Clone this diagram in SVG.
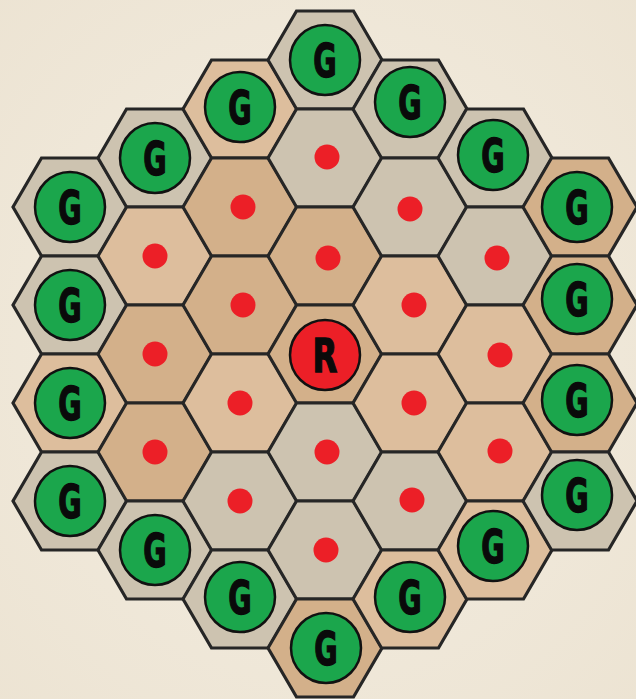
<svg xmlns="http://www.w3.org/2000/svg" xmlns:xlink="http://www.w3.org/1999/xlink" width="636" height="699" viewBox="0 0 636 699">
<style>
.hex{stroke:#262626;stroke-width:3.2;stroke-linejoin:miter}
.gray{fill:#cdc3b0}
.tan{fill:#d3b08a}
.peach{fill:#ddbe9d}
.gc{fill:#1ba64c;stroke:#111;stroke-width:2.5}
.rc{fill:#ec1f27;stroke:#111;stroke-width:2.5}
.dot{fill:#ec1f27}
.lbl{font-family:"DejaVu Sans","Liberation Sans",sans-serif;font-weight:bold;font-size:46px;fill:#0a0a0a;stroke:#0a0a0a;stroke-width:1.5;text-anchor:middle}
</style>
<defs>
<polygon id="hx" points="-57,0 -28.5,-49 28.5,-49 57,0 28.5,49 -28.5,49"/>
<radialGradient id="bg" cx="0.5" cy="0.5" r="0.75">
<stop offset="0" stop-color="#f4eee2"/>
<stop offset="1" stop-color="#ece3d2"/>
</radialGradient>
</defs>
<rect width="636" height="699" fill="url(#bg)"/>
<g id="board">
<!-- column -3 -->
<g id="h-3a"><use href="#hx" x="70" y="207" class="hex gray"/><circle cx="70" cy="207" r="35" class="gc"/><text class="lbl" transform="translate(70,224) scale(0.62,1)">G</text></g>
<g id="h-3b"><use href="#hx" x="70" y="305" class="hex gray"/><circle cx="70" cy="305" r="35" class="gc"/><text class="lbl" transform="translate(70,322) scale(0.62,1)">G</text></g>
<g id="h-3c"><use href="#hx" x="70" y="403" class="hex peach"/><circle cx="70" cy="403" r="35" class="gc"/><text class="lbl" transform="translate(70,420) scale(0.62,1)">G</text></g>
<g id="h-3d"><use href="#hx" x="70" y="501" class="hex gray"/><circle cx="70" cy="501" r="35" class="gc"/><text class="lbl" transform="translate(70,518) scale(0.62,1)">G</text></g>
<!-- column -2 -->
<g id="h-2a"><use href="#hx" x="155" y="158" class="hex gray"/><circle cx="155" cy="158" r="35" class="gc"/><text class="lbl" transform="translate(155,175) scale(0.62,1)">G</text></g>
<g id="h-2b"><use href="#hx" x="155" y="256" class="hex peach"/><circle cx="155" cy="256" r="12.5" class="dot"/></g>
<g id="h-2c"><use href="#hx" x="155" y="354" class="hex tan"/><circle cx="155" cy="354" r="12.5" class="dot"/></g>
<g id="h-2d"><use href="#hx" x="155" y="452" class="hex tan"/><circle cx="155" cy="452" r="12.5" class="dot"/></g>
<g id="h-2e"><use href="#hx" x="155" y="550" class="hex gray"/><circle cx="155" cy="550" r="35" class="gc"/><text class="lbl" transform="translate(155,567) scale(0.62,1)">G</text></g>
<!-- column -1 -->
<g id="h-1a"><use href="#hx" x="240" y="109" class="hex peach"/><circle cx="240" cy="107" r="35" class="gc"/><text class="lbl" transform="translate(240,124) scale(0.62,1)">G</text></g>
<g id="h-1b"><use href="#hx" x="240" y="207" class="hex tan"/><circle cx="243" cy="207" r="12.5" class="dot"/></g>
<g id="h-1c"><use href="#hx" x="240" y="305" class="hex tan"/><circle cx="243" cy="305" r="12.5" class="dot"/></g>
<g id="h-1d"><use href="#hx" x="240" y="403" class="hex peach"/><circle cx="240" cy="403" r="12.5" class="dot"/></g>
<g id="h-1e"><use href="#hx" x="240" y="501" class="hex gray"/><circle cx="240" cy="501" r="12.5" class="dot"/></g>
<g id="h-1f"><use href="#hx" x="240" y="599" class="hex gray"/><circle cx="240" cy="597" r="35" class="gc"/><text class="lbl" transform="translate(240,614) scale(0.62,1)">G</text></g>
<!-- column 0 -->
<g id="h0a"><use href="#hx" x="325" y="60" class="hex gray"/><circle cx="325" cy="60" r="35" class="gc"/><text class="lbl" transform="translate(325,77) scale(0.62,1)">G</text></g>
<g id="h0b"><use href="#hx" x="325" y="158" class="hex gray"/><circle cx="327" cy="157" r="12.5" class="dot"/></g>
<g id="h0c"><use href="#hx" x="325" y="256" class="hex tan"/><circle cx="328" cy="258" r="12.5" class="dot"/></g>
<g id="h0d"><use href="#hx" x="325" y="354" class="hex tan"/><circle cx="325" cy="355" r="35" class="rc"/><text class="lbl" transform="translate(325,372) scale(0.7,1)">R</text></g>
<g id="h0e"><use href="#hx" x="325" y="452" class="hex gray"/><circle cx="327" cy="452" r="12.5" class="dot"/></g>
<g id="h0f"><use href="#hx" x="325" y="550" class="hex gray"/><circle cx="326" cy="550" r="12.5" class="dot"/></g>
<g id="h0g"><use href="#hx" x="325" y="648" class="hex tan"/><circle cx="326" cy="648" r="35" class="gc"/><text class="lbl" transform="translate(326,665) scale(0.62,1)">G</text></g>
<!-- column 1 -->
<g id="h1a"><use href="#hx" x="410" y="109" class="hex gray"/><circle cx="410" cy="102" r="35" class="gc"/><text class="lbl" transform="translate(410,119) scale(0.62,1)">G</text></g>
<g id="h1b"><use href="#hx" x="410" y="207" class="hex gray"/><circle cx="410" cy="209" r="12.5" class="dot"/></g>
<g id="h1c"><use href="#hx" x="410" y="305" class="hex peach"/><circle cx="414" cy="305" r="12.5" class="dot"/></g>
<g id="h1d"><use href="#hx" x="410" y="403" class="hex peach"/><circle cx="414" cy="403" r="12.5" class="dot"/></g>
<g id="h1e"><use href="#hx" x="410" y="501" class="hex gray"/><circle cx="412" cy="500" r="12.5" class="dot"/></g>
<g id="h1f"><use href="#hx" x="410" y="599" class="hex peach"/><circle cx="410" cy="597" r="35" class="gc"/><text class="lbl" transform="translate(410,614) scale(0.62,1)">G</text></g>
<!-- column 2 -->
<g id="h2a"><use href="#hx" x="495" y="158" class="hex gray"/><circle cx="493" cy="155" r="35" class="gc"/><text class="lbl" transform="translate(493,172) scale(0.62,1)">G</text></g>
<g id="h2b"><use href="#hx" x="495" y="256" class="hex gray"/><circle cx="497" cy="258" r="12.5" class="dot"/></g>
<g id="h2c"><use href="#hx" x="495" y="354" class="hex peach"/><circle cx="500" cy="355" r="12.5" class="dot"/></g>
<g id="h2d"><use href="#hx" x="495" y="452" class="hex peach"/><circle cx="500" cy="451" r="12.5" class="dot"/></g>
<g id="h2e"><use href="#hx" x="495" y="550" class="hex peach"/><circle cx="493" cy="546" r="35" class="gc"/><text class="lbl" transform="translate(493,563) scale(0.62,1)">G</text></g>
<!-- column 3 -->
<g id="h3a"><use href="#hx" x="580" y="207" class="hex tan"/><circle cx="577" cy="207" r="35" class="gc"/><text class="lbl" transform="translate(577,224) scale(0.62,1)">G</text></g>
<g id="h3b"><use href="#hx" x="580" y="305" class="hex tan"/><circle cx="577" cy="299" r="35" class="gc"/><text class="lbl" transform="translate(577,316) scale(0.62,1)">G</text></g>
<g id="h3c"><use href="#hx" x="580" y="403" class="hex tan"/><circle cx="577" cy="400" r="35" class="gc"/><text class="lbl" transform="translate(577,417) scale(0.62,1)">G</text></g>
<g id="h3d"><use href="#hx" x="580" y="501" class="hex gray"/><circle cx="577" cy="495" r="35" class="gc"/><text class="lbl" transform="translate(577,512) scale(0.62,1)">G</text></g>
</g>
</svg>
